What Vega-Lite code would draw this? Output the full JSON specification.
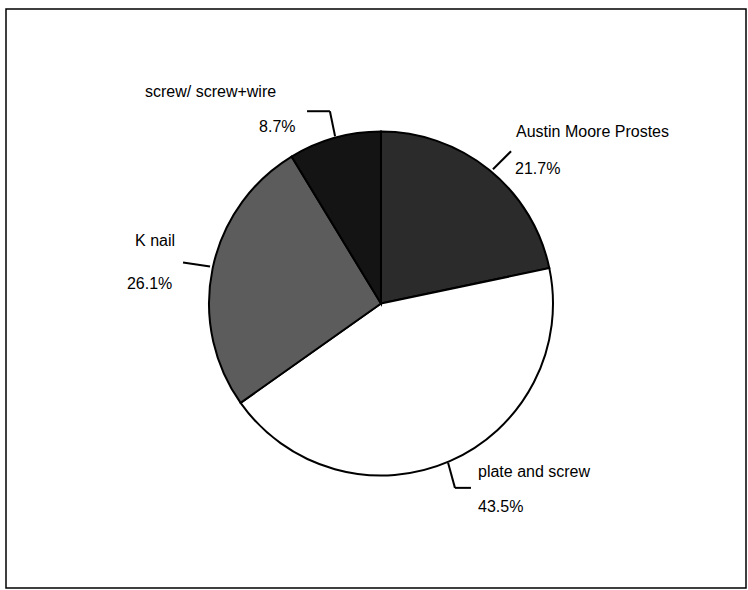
{
  "$schema": "https://vega.github.io/schema/vega-lite/v6.json",
  "width": 748,
  "height": 590,
  "autosize": {"type": "fit", "contains": "padding"},
  "padding": {"left": 6, "top": 9, "right": 2, "bottom": 2},
  "background": "white",
  "view": {"stroke": "black", "strokeWidth": 1.5},
  "config": {"text": {"font": "Liberation Sans"}},
  "datasets": {
    "slices": [
      {"label": "Austin Moore Prostes", "pct": 21.7, "idx": 1},
      {"label": "plate and screw", "pct": 43.5, "idx": 2},
      {"label": "K nail", "pct": 26.1, "idx": 3},
      {"label": "screw/ screw+wire", "pct": 8.7, "idx": 4}
    ],
    "labels": [
      {"text": "screw/ screw+wire", "lx": -1.372, "ly": 1.227},
      {"text": "8.7%", "lx": -0.709, "ly": 1.023},
      {"text": "Austin Moore Prostes", "lx": 0.785, "ly": 0.994},
      {"text": "21.7%", "lx": 0.779, "ly": 0.779},
      {"text": "K nail", "lx": -1.43, "ly": 0.36},
      {"text": "26.1%", "lx": -1.477, "ly": 0.116},
      {"text": "plate and screw", "lx": 0.564, "ly": -0.977},
      {"text": "43.5%", "lx": 0.564, "ly": -1.18}
    ],
    "leaders": [
      {"x1": -0.43, "y1": 1.116, "x2": -0.297, "y2": 1.116},
      {"x1": -0.297, "y1": 1.116, "x2": -0.267, "y2": 0.971},
      {"x1": 0.756, "y1": 0.884, "x2": 0.651, "y2": 0.779},
      {"x1": -1.151, "y1": 0.238, "x2": -0.994, "y2": 0.215},
      {"x1": 0.39, "y1": -0.924, "x2": 0.43, "y2": -1.07},
      {"x1": 0.43, "y1": -1.07, "x2": 0.523, "y2": -1.07}
    ]
  },
  "layer": [
    {
      "data": {"name": "slices"},
      "mark": {"type": "arc", "outerRadius": 172, "stroke": "black", "strokeWidth": 2},
      "encoding": {
        "theta": {"field": "pct", "type": "quantitative", "stack": true},
        "order": {"field": "idx", "type": "quantitative", "sort": "ascending"},
        "color": {
          "field": "label",
          "type": "nominal",
          "scale": {
            "domain": ["Austin Moore Prostes", "plate and screw", "K nail", "screw/ screw+wire"],
            "range": ["#2b2b2b", "#ffffff", "#5c5c5c", "#141414"]
          },
          "legend": null
        },
        "x": {"datum": 0, "type": "quantitative", "scale": {"domain": [-2.1802, 2.1221], "nice": false, "zero": false}, "axis": null},
        "y": {"datum": 0, "type": "quantitative", "scale": {"domain": [-1.6512, 1.7093], "nice": false, "zero": false}, "axis": null}
      }
    },
    {
      "data": {"name": "leaders"},
      "mark": {"type": "rule", "color": "black", "strokeWidth": 2},
      "encoding": {
        "x": {"field": "x1", "type": "quantitative"},
        "y": {"field": "y1", "type": "quantitative"},
        "x2": {"field": "x2"},
        "y2": {"field": "y2"}
      }
    },
    {
      "data": {"name": "labels"},
      "mark": {"type": "text", "align": "left", "baseline": "middle", "fontSize": 16, "color": "black"},
      "encoding": {
        "x": {"field": "lx", "type": "quantitative"},
        "y": {"field": "ly", "type": "quantitative"},
        "text": {"field": "text", "type": "nominal"}
      }
    }
  ]
}
